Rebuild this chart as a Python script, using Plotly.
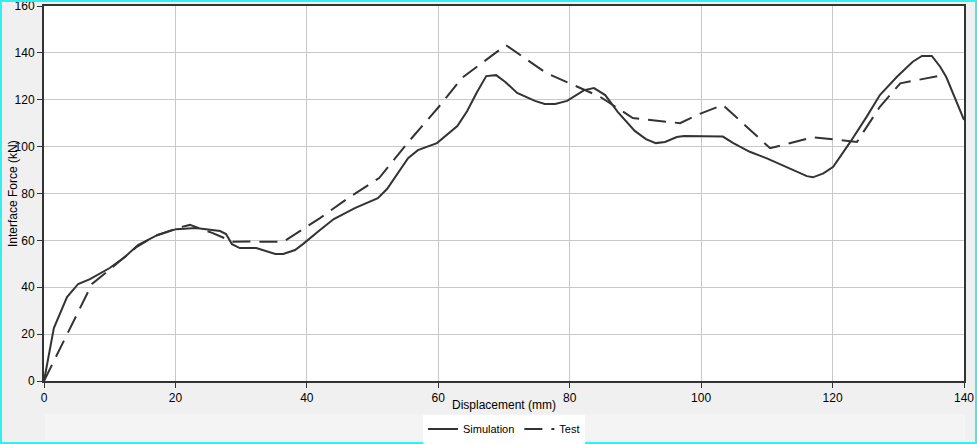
import plotly.graph_objects as go

sim_x = [0, 1.5, 3.5, 5.2, 7, 10, 12.3, 14.3, 17.3, 20.1, 23.1, 26.8, 27.7, 28.6, 29.8, 32.3,
         35.2, 36.4, 38.2, 39.4, 42, 44.1, 47.3, 50.8, 52.2, 55.4, 56.9, 59.8, 62.9, 64.4,
         65.9, 67.3, 68.8, 70.2, 72, 74.7, 76.2, 77.8, 79.6, 81.3, 82.2, 83.7, 85.4, 87.3,
         89.9, 91.6, 93.1, 94.5, 96.3, 97.4, 103.3, 104.9, 107.4, 110, 113.5, 116.1, 117,
         118.6, 120.1, 122.7, 125.2, 127.2, 129.8, 132.2, 133.6, 135.1, 136.4, 137.3, 140]
sim_y = [0, 22.6, 35.8, 41.4, 43.5, 48.2, 52.9, 58, 62.3, 64.8, 65.3, 64, 62.7, 58.4, 56.7, 56.7,
         54.2, 54.2, 55.9, 58.4, 64.4, 69.1, 73.8, 78, 81.9, 95.1, 98.5, 101.5, 108.8, 115.2,
         123.3, 130.1, 130.5, 127.6, 122.9, 119.5, 118.2, 118.2, 119.5, 122.4, 124.1, 125, 122, 114.8,
         106.7, 103.2, 101.5, 102, 104.1, 104.5, 104.3, 101.5, 97.8, 95, 90.7, 87.4, 86.9,
         88.6, 91.4, 102, 112.8, 122, 129.8, 136.2, 138.7, 138.7, 134, 129.7, 111.4]

test_x = [0, 7.3, 10, 14, 17, 20.6, 22.2, 25.5, 28.8, 31, 36.4, 42, 46, 51, 55.7, 60.3, 63.6,
          68, 70.3, 76.5, 80, 84.6, 89.6, 96.8, 99.8, 103.3, 110.5, 117, 123.7, 127.2, 130.3, 136.8]
test_y = [0, 41.4, 47.5, 57, 62, 65.5, 66.6, 63.3, 59.4, 59.5, 59.4, 69.5, 77.5, 86.6, 102.8, 117.7, 129.3,
          138.7, 143.3, 131.3, 127, 121.3, 112.2, 110, 114, 117.8, 99.3, 104, 102, 117, 127, 130.5]

W, H = 977, 444
ML, MR, MT, MB = 44, 13, 6, 63
pw, ph = W - ML - MR, H - MT - MB

def px(x):
    return (x - ML) / pw

def py(y):
    return (H - MB - y) / ph

fig = go.Figure()
fig.add_trace(go.Scatter(x=sim_x, y=sim_y, mode="lines", name="Simulation",
                         line=dict(color="#333333", width=2)))
fig.add_trace(go.Scatter(x=test_x, y=test_y, mode="lines", name="Test",
                         line=dict(color="#333333", width=2, dash="18px,9px")))

ff = "Liberation Sans, Arial, sans-serif"
font = dict(family=ff, size=12, color="#000000")

fig.update_layout(
    width=W, height=H,
    margin=dict(l=ML, r=MR, t=MT, b=MB, autoexpand=False),
    paper_bgcolor="#f0f0f0",
    plot_bgcolor="#ffffff",
    font=font,
    showlegend=True,
    legend=dict(orientation="h", x=0.5, xanchor="center", y=py(429), yanchor="middle",
                bgcolor="#ffffff", font=dict(size=11, family=ff), tracegroupgap=0),
    xaxis=dict(range=[0, 140], dtick=20, showgrid=True, gridcolor="#c8c8c8", gridwidth=1,
               showline=True, linecolor="#333333", linewidth=2, mirror=True,
               ticks="outside", ticklen=5, tickcolor="#333333", zeroline=False,
               automargin=False, ticklabeloverflow="allow"),
    yaxis=dict(range=[0, 160], dtick=20, showgrid=True, gridcolor="#c8c8c8", gridwidth=1,
               showline=True, linecolor="#333333", linewidth=2, mirror=True,
               ticks="outside", ticklen=5, tickcolor="#333333", zeroline=False,
               automargin=False, ticklabeloverflow="allow"),
    annotations=[
        dict(text="Displacement (mm)", xref="paper", yref="paper", x=px(504), y=py(405),
             xanchor="center", yanchor="middle", showarrow=False, font=font),
        dict(text="Interface Force (kN)", xref="paper", yref="paper", x=px(13), y=py(194),
             xanchor="center", yanchor="middle", showarrow=False, textangle=-90, font=font),
    ],
    shapes=[
        dict(type="rect", xref="paper", yref="paper", x0=px(45), x1=px(965), y0=py(440), y1=py(414),
             fillcolor="#f4f4f4", line=dict(width=0), layer="below"),
        dict(type="rect", xref="paper", yref="paper", x0=px(1), x1=px(976), y0=py(443), y1=py(1),
             line=dict(color="#33f0f0", width=2), fillcolor="rgba(0,0,0,0)"),
    ],
)

fig.write_html("out.html")
